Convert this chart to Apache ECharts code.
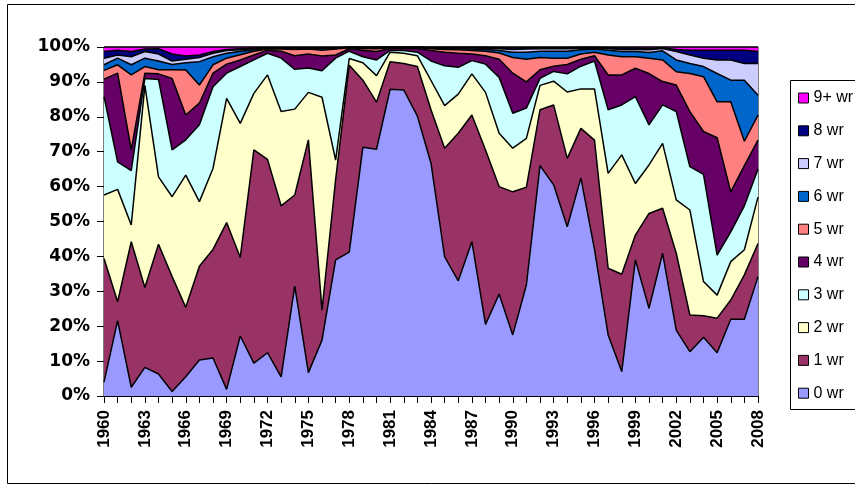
<!DOCTYPE html>
<html>
<head>
<meta charset="utf-8">
<script src="https://cdn.jsdelivr.net/npm/echarts@6/dist/echarts.min.js"></script>
<style>
html,body{margin:0;padding:0;background:#fff;}
#chart{width:855px;height:486px;}
</style>
</head>
<body>
<div id="chart"></div>
<script>
var years = ['1960','1961','1962','1963','1964','1965','1966','1967','1968','1969','1970','1971','1972','1973','1974','1975','1976','1977','1978','1979','1980','1981','1982','1983','1984','1985','1986','1987','1988','1989','1990','1991','1992','1993','1994','1995','1996','1997','1998','1999','2000','2001','2002','2003','2004','2005','2006','2007','2008'];

var seriesNames = ['0 wr','1 wr','2 wr','3 wr','4 wr','5 wr','6 wr','7 wr','8 wr','9+ wr'];

var yTicks = [0,10,20,30,40,50,60,70,80,90,100];

var wr0 = [4.0,21.6,2.5,8.2,6.3,1.3,5.5,10.3,10.9,1.9,17.2,9.4,12.4,5.5,31.5,6.7,16.0,39.0,41.2,71.3,70.7,87.9,87.7,80.2,66.7,39.9,33.0,44.2,20.5,29.2,17.5,31.8,66.0,60.5,48.5,62.5,42.0,17.5,7.0,39.0,25.1,40.9,18.9,12.7,16.8,12.4,22.0,22.0,34.2];
var wr1 = [35.4,5.4,41.7,22.9,37.2,32.9,19.9,26.9,31.1,47.8,22.5,61.1,55.4,49.0,26.1,66.7,8.6,23.0,53.6,19.2,13.5,7.9,7.6,14.2,15.3,31.1,42.3,36.3,50.0,30.8,41.0,28.0,16.0,22.9,19.6,14.2,31.3,19.1,27.9,7.1,27.2,12.9,22.0,10.5,6.2,9.9,5.5,12.7,9.5];
var wr2 = [18.2,32.2,4.8,57.9,19.3,22.9,37.9,18.5,23.2,35.6,38.4,16.2,24.2,27.0,24.6,13.6,61.0,5.6,1.9,5.0,7.6,2.7,2.9,3.1,8.4,12.2,11.2,11.8,16.5,15.3,12.5,14.0,7.0,6.8,19.0,11.3,14.7,27.2,34.2,14.8,13.9,18.6,15.3,30.1,9.8,6.6,11.0,7.2,13.3];
var wr3 = [28.2,7.9,15.6,2.0,27.9,13.4,10.1,22.0,23.4,7.2,16.3,9.6,6.2,15.3,11.4,7.0,7.6,29.2,2.1,1.7,4.5,0.5,0.8,1.0,5.6,11.4,7.7,3.8,8.1,16.0,10.0,8.7,2.0,2.8,5.2,6.5,8.0,18.2,14.3,24.9,11.5,11.0,25.3,12.4,30.7,11.5,8.5,12.6,8.0];
var wr4 = [5.0,25.4,5.9,1.5,1.6,20.5,7.1,6.2,3.9,2.6,1.9,1.4,0.9,2.0,3.9,4.0,4.2,0.9,0.7,1.9,2.4,0.6,0.6,1.1,3.0,3.9,4.0,1.9,2.4,5.2,11.5,7.5,2.5,1.5,2.7,2.0,1.5,10.0,8.6,8.1,14.7,6.7,7.6,15.8,12.3,33.6,11.5,11.5,8.3];
var wr5 = [2.5,2.4,21.5,1.9,1.2,2.5,12.9,5.2,2.4,1.7,1.5,1.1,0.3,0.6,1.8,1.4,1.7,1.7,0.3,0.5,0.8,0.2,0.2,0.2,0.5,0.8,1.0,1.0,1.3,1.8,4.5,6.5,3.5,2.3,1.8,1.5,1.0,5.7,5.2,3.3,4.4,6.2,3.8,10.9,15.7,10.3,25.8,7.0,7.2];
var wr6 = [1.6,1.9,2.9,2.4,2.5,1.5,2.1,6.7,2.3,1.4,1.0,0.4,0.2,0.2,0.3,0.2,0.4,0.2,0.1,0.2,0.3,0.1,0.1,0.1,0.2,0.3,0.3,0.4,0.5,0.7,1.5,2.0,1.8,2.0,2.0,1.2,0.9,1.4,1.5,1.5,1.6,2.6,3.4,2.9,2.9,8.1,6.2,17.5,5.7];
var wr7 = [1.9,0.9,2.3,1.9,2.0,1.0,1.0,1.2,1.0,0.8,0.4,0.3,0.1,0.1,0.1,0.1,0.2,0.1,0.0,0.1,0.1,0.0,0.0,0.0,0.1,0.2,0.2,0.3,0.3,0.5,0.8,0.9,0.7,0.7,0.7,0.4,0.3,0.4,0.6,0.6,0.8,0.7,2.4,2.4,2.4,3.9,5.8,4.8,9.1];
var wr8 = [1.9,1.4,1.5,0.7,1.5,2.0,0.9,0.7,0.5,0.3,0.3,0.2,0.1,0.1,0.1,0.1,0.1,0.1,0.0,0.0,0.0,0.0,0.0,0.0,0.1,0.1,0.2,0.2,0.3,0.3,0.4,0.4,0.3,0.3,0.3,0.3,0.2,0.3,0.4,0.4,0.4,0.2,0.6,1.4,2.3,2.8,2.8,3.8,3.4];
var wr9 = [1.3,0.9,1.3,0.6,0.5,2.0,2.6,2.3,1.3,0.7,0.5,0.3,0.2,0.2,0.2,0.2,0.2,0.2,0.1,0.1,0.1,0.1,0.1,0.1,0.1,0.1,0.1,0.1,0.1,0.2,0.3,0.2,0.2,0.2,0.2,0.1,0.1,0.2,0.3,0.3,0.4,0.2,0.7,0.9,0.9,0.9,0.9,0.9,1.3];

var seriesValues = [wr0,wr1,wr2,wr3,wr4,wr5,wr6,wr7,wr8,wr9];
var colors = ['#9999FF','#993366','#FFFFCC','#CCFFFF','#660066','#FF8080','#0066CC','#CCCCFF','#000080','#FF00FF'];

var chart = echarts.init(document.getElementById('chart'), null, {renderer:'canvas'});

var series = seriesNames.map(function(name, i){
  return {
    name: name,
    type: 'line',
    stack: 'all',
    data: seriesValues[i],
    showSymbol: false,
    symbol: 'none',
    smooth: false,
    lineStyle: {color:'#000', width:1.5},
    areaStyle: {color: colors[i], opacity:1},
    itemStyle: {color: colors[i]},
    emphasis: {disabled:true},
    z: 2
  };
});

var legendData = seriesNames.slice().reverse().map(function(name){
  var i = seriesNames.indexOf(name);
  return {name:name, itemStyle:{color:colors[i], borderColor:'#000', borderWidth:1}};
});

chart.setOption({
  animation: false,
  backgroundColor: '#fff',
  graphic: [{
    type: 'rect',
    shape: {x:7.5, y:4.5, width:900, height:479},
    style: {fill:'none', stroke:'#000', lineWidth:1},
    silent: true,
    z: 0
  }, {
    type: 'rect',
    shape: {x:790.5, y:80.5, width:120, height:329},
    style: {fill:'none', stroke:'#000', lineWidth:1},
    silent: true,
    z: 0
  }],
  grid: {left:104, right:97, top:47, bottom:90, show:true, borderColor:'#000', borderWidth:1, backgroundColor:'transparent', containLabel:false},
  legend: {
    data: legendData,
    orient: 'vertical',
    left: 790,
    top: 80,
    icon: 'rect',
    itemWidth: 10,
    itemHeight: 10,
    itemGap: 16.8,
    padding: [10, 0, 10, 8],
    borderWidth: 0,
    selectedMode: false,
    textStyle: {fontFamily:'Liberation Sans', fontSize:16, color:'#000', lineHeight:14}
  },
  xAxis: {
    type: 'category',
    data: years,
    boundaryGap: false,
    axisLine: {show:true, lineStyle:{color:'#000', width:1}},
    axisTick: {show:true, interval:0, length:7, lineStyle:{color:'#000'}},
    axisLabel: {interval:2, rotate:90, margin:14, fontFamily:'Liberation Sans', fontWeight:'bold', fontSize:17, color:'#000'},
    splitLine: {show:false}
  },
  yAxis: {
    type: 'value',
    min: yTicks[0],
    max: yTicks[yTicks.length-1],
    interval: 10,
    axisLine: {show:true, lineStyle:{color:'#000', width:1}},
    axisTick: {show:true, length:7, lineStyle:{color:'#000'}},
    axisLabel: {formatter:'{value}%', margin:14, fontFamily:'DejaVu Sans', fontWeight:'bold', fontSize:17, color:'#000'},
    splitLine: {show:false}
  },
  series: series
});
</script>
</body>
</html>
